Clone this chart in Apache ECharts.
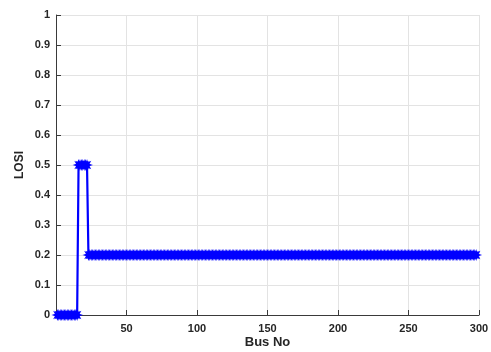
<!DOCTYPE html>
<html>
<head>
<meta charset="utf-8">
<script src="https://cdn.jsdelivr.net/npm/echarts@6/dist/echarts.min.js"></script>
<style>
  html, body { margin: 0; padding: 0; background: #fff; }
  #chart { width: 491px; height: 352px; }
</style>
</head>
<body>
<div id="chart"></div>
<script>
// LOSI value for each bus, bus 1 to bus 300
const losi = [
  0, 0, 0, 0, 0, 0, 0, 0, 0, 0, 0, 0, 0, 0, 0,
  0.5, 0.5, 0.5, 0.5, 0.5, 0.5, 0.5,
  0.2, 0.2, 0.2, 0.2, 0.2, 0.2, 0.2, 0.2, 0.2, 0.2, 0.2, 0.2, 0.2, 0.2, 0.2, 0.2, 0.2, 0.2,
  0.2, 0.2, 0.2, 0.2, 0.2, 0.2, 0.2, 0.2, 0.2, 0.2, 0.2, 0.2, 0.2, 0.2, 0.2, 0.2, 0.2, 0.2, 0.2, 0.2,
  0.2, 0.2, 0.2, 0.2, 0.2, 0.2, 0.2, 0.2, 0.2, 0.2, 0.2, 0.2, 0.2, 0.2, 0.2, 0.2, 0.2, 0.2, 0.2, 0.2,
  0.2, 0.2, 0.2, 0.2, 0.2, 0.2, 0.2, 0.2, 0.2, 0.2, 0.2, 0.2, 0.2, 0.2, 0.2, 0.2, 0.2, 0.2, 0.2, 0.2,
  0.2, 0.2, 0.2, 0.2, 0.2, 0.2, 0.2, 0.2, 0.2, 0.2, 0.2, 0.2, 0.2, 0.2, 0.2, 0.2, 0.2, 0.2, 0.2, 0.2,
  0.2, 0.2, 0.2, 0.2, 0.2, 0.2, 0.2, 0.2, 0.2, 0.2, 0.2, 0.2, 0.2, 0.2, 0.2, 0.2, 0.2, 0.2, 0.2, 0.2,
  0.2, 0.2, 0.2, 0.2, 0.2, 0.2, 0.2, 0.2, 0.2, 0.2, 0.2, 0.2, 0.2, 0.2, 0.2, 0.2, 0.2, 0.2, 0.2, 0.2,
  0.2, 0.2, 0.2, 0.2, 0.2, 0.2, 0.2, 0.2, 0.2, 0.2, 0.2, 0.2, 0.2, 0.2, 0.2, 0.2, 0.2, 0.2, 0.2, 0.2,
  0.2, 0.2, 0.2, 0.2, 0.2, 0.2, 0.2, 0.2, 0.2, 0.2, 0.2, 0.2, 0.2, 0.2, 0.2, 0.2, 0.2, 0.2, 0.2, 0.2,
  0.2, 0.2, 0.2, 0.2, 0.2, 0.2, 0.2, 0.2, 0.2, 0.2, 0.2, 0.2, 0.2, 0.2, 0.2, 0.2, 0.2, 0.2, 0.2, 0.2,
  0.2, 0.2, 0.2, 0.2, 0.2, 0.2, 0.2, 0.2, 0.2, 0.2, 0.2, 0.2, 0.2, 0.2, 0.2, 0.2, 0.2, 0.2, 0.2, 0.2,
  0.2, 0.2, 0.2, 0.2, 0.2, 0.2, 0.2, 0.2, 0.2, 0.2, 0.2, 0.2, 0.2, 0.2, 0.2, 0.2, 0.2, 0.2, 0.2, 0.2,
  0.2, 0.2, 0.2, 0.2, 0.2, 0.2, 0.2, 0.2, 0.2, 0.2, 0.2, 0.2, 0.2, 0.2, 0.2, 0.2, 0.2, 0.2, 0.2, 0.2,
  0.2, 0.2, 0.2, 0.2, 0.2, 0.2, 0.2, 0.2, 0.2, 0.2, 0.2, 0.2, 0.2, 0.2, 0.2, 0.2, 0.2, 0.2
];

// bus numbers 1..N, one per LOSI value
const busNo = losi.map((_, i) => i + 1);

// axis ranges; the x axis starts at 0 so ticks fall on multiples of 50,
// the 0 tick label is left blank
const xMin = 0, xMax = 300, xStep = 50;
const yMin = 0, yMax = 1, yStep = 0.1;

// asterisk-like marker: 8 arms
function asteriskPath() {
  const pts = [];
  const n = 8, rOut = 1, rIn = 0.45;
  for (let k = 0; k < n * 2; k++) {
    const a = Math.PI * k / n;
    const r = k % 2 === 0 ? rOut : rIn;
    pts.push((r * Math.cos(a)).toFixed(3) + ' ' + (r * Math.sin(a)).toFixed(3));
  }
  return 'path://M' + pts.join(' L') + ' Z';
}

const axisColor = '#3a3a3a';
const gridColor = '#e3e3e3';
const font = '"Liberation Sans", Arial, sans-serif';

const chart = echarts.init(document.getElementById('chart'), null, { renderer: 'canvas' });
chart.setOption({
  animation: false,
  backgroundColor: '#fff',
  grid: { left: 56, right: 12, top: 15, bottom: 37, containLabel: false, outerBoundsMode: 'none' },
  xAxis: {
    type: 'value',
    min: xMin,
    max: xMax,
    interval: xStep,
    name: 'Bus No',
    nameLocation: 'middle',
    nameGap: 21,
    nameMoveOverlap: false,
    nameTextStyle: { color: '#262626', fontFamily: font, fontWeight: 'bold', fontSize: 13 },
    axisLine: { show: true, lineStyle: { color: axisColor, width: 1 } },
    axisTick: { show: true, inside: true, length: 5, lineStyle: { color: axisColor } },
    axisLabel: {
      showMaxLabel: true, showMinLabel: true, hideOverlap: false, margin: 8,
      color: '#262626', fontFamily: font, fontWeight: 'bold', fontSize: 11,
      formatter: v => (v === xMin ? '' : String(v))
    },
    splitLine: { show: true, lineStyle: { color: gridColor, width: 1 } }
  },
  yAxis: {
    type: 'value',
    min: yMin,
    max: yMax,
    interval: yStep,
    name: 'LOSI',
    nameLocation: 'middle',
    nameGap: 30,
    nameMoveOverlap: false,
    nameTextStyle: { color: '#262626', fontFamily: font, fontWeight: 'bold', fontSize: 12 },
    axisLine: { show: true, lineStyle: { color: axisColor, width: 1 } },
    axisTick: { show: true, inside: true, length: 5, lineStyle: { color: axisColor } },
    axisLabel: {
      margin: 6, color: '#262626', fontFamily: font, fontWeight: 'bold', fontSize: 11,
      formatter: v => String(Math.round(v * 10) / 10)
    },
    splitLine: { show: true, lineStyle: { color: gridColor, width: 1 } }
  },
  series: [{
    type: 'line',
    data: busNo.map((b, i) => [b, losi[i]]),
    symbol: asteriskPath(),
    symbolSize: 12,
    showAllSymbol: true,
    clip: false,
    lineStyle: { color: '#0000ff', width: 2.2 },
    itemStyle: { color: '#0000ff' },
    z: 3
  }]
});
</script>
</body>
</html>
